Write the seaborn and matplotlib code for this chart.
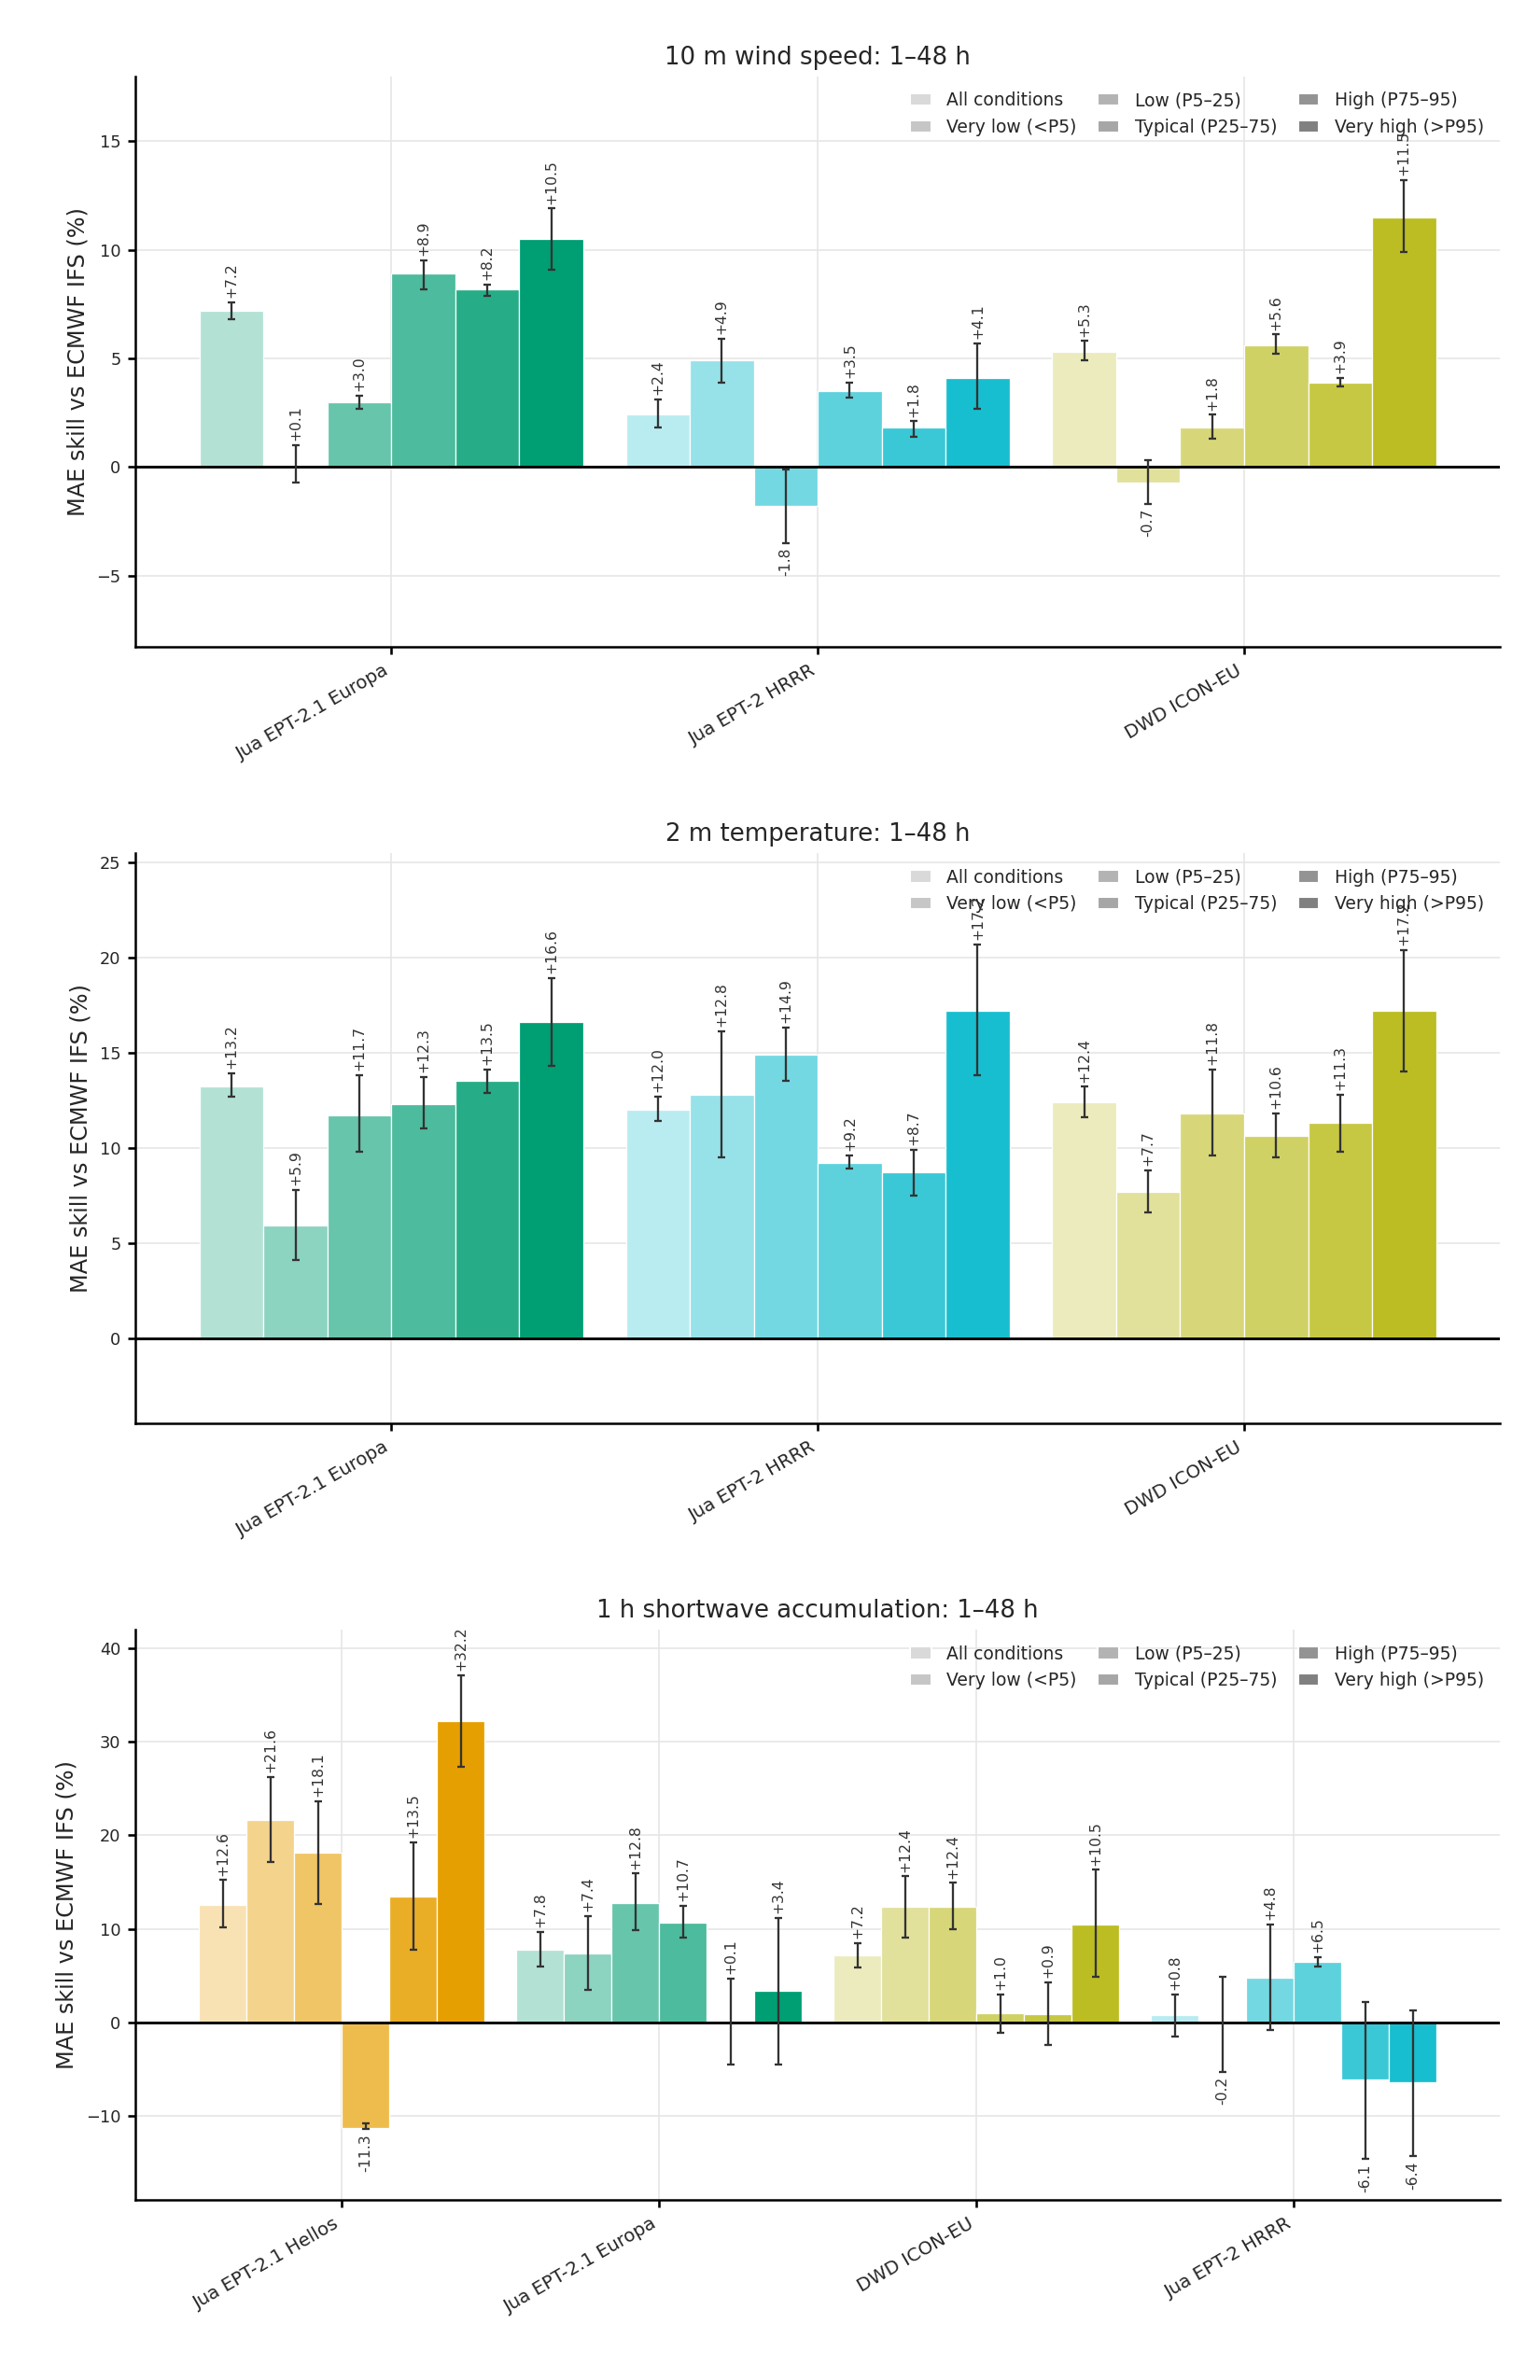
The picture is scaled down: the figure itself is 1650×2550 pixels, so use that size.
import numpy as np
import pandas as pd
import matplotlib
matplotlib.use("Agg")
import matplotlib.pyplot as plt
import matplotlib.colors as mcolors
from matplotlib.patches import Patch
import seaborn as sns

sns.set_theme(style="whitegrid")
plt.rcParams['font.family'] = ['DejaVu Sans']

conditions = ["All conditions", "Very low (<P5)", "Low (P5–25)", "Typical (P25–75)", "High (P75–95)", "Very high (>P95)"]
alphas = [0.3, 0.45, 0.6, 0.7, 0.85, 1.0]

colors = {"Jua EPT-2.1 Hellos": "#E69F00", "Jua EPT-2.1 Europa": "#009E73",
          "Jua EPT-2 HRRR": "#17BECF", "DWD ICON-EU": "#BCBD22"}

# Panel 1: 10 m wind speed
wind_models = ["Jua EPT-2.1 Europa", "Jua EPT-2 HRRR", "DWD ICON-EU"]
wind_vals = [[7.2, 0.1, 3.0, 8.9, 8.2, 10.5],
             [2.4, 4.9, -1.8, 3.5, 1.8, 4.1],
             [5.3, -0.7, 1.8, 5.6, 3.9, 11.5]]
wind_lo = [[6.8, -0.7, 2.7, 8.2, 7.9, 9.1],
           [1.8, 3.9, -3.5, 3.2, 1.4, 2.7],
           [4.9, -1.7, 1.3, 5.2, 3.7, 9.9]]
wind_hi = [[7.6, 1.0, 3.3, 9.5, 8.4, 11.9],
           [3.1, 5.9, -0.1, 3.9, 2.1, 5.7],
           [5.8, 0.3, 2.4, 6.1, 4.1, 13.2]]

# Panel 2: 2 m temperature
temp_models = ["Jua EPT-2.1 Europa", "Jua EPT-2 HRRR", "DWD ICON-EU"]
temp_vals = [[13.2, 5.9, 11.7, 12.3, 13.5, 16.6],
             [12.0, 12.8, 14.9, 9.2, 8.7, 17.2],
             [12.4, 7.7, 11.8, 10.6, 11.3, 17.2]]
temp_lo = [[12.7, 4.1, 9.8, 11.0, 12.9, 14.3],
           [11.4, 9.5, 13.5, 8.9, 7.5, 13.8],
           [11.6, 6.6, 9.6, 9.5, 9.8, 14.0]]
temp_hi = [[13.9, 7.8, 13.8, 13.7, 14.1, 18.9],
           [12.7, 16.1, 16.3, 9.6, 9.9, 20.7],
           [13.2, 8.8, 14.1, 11.8, 12.8, 20.4]]

# Panel 3: 1 h shortwave accumulation
sw_models = ["Jua EPT-2.1 Hellos", "Jua EPT-2.1 Europa", "DWD ICON-EU", "Jua EPT-2 HRRR"]
sw_vals = [[12.6, 21.6, 18.1, -11.3, 13.5, 32.2],
           [7.8, 7.4, 12.8, 10.7, 0.1, 3.4],
           [7.2, 12.4, 12.4, 1.0, 0.9, 10.5],
           [0.8, -0.2, 4.8, 6.5, -6.1, -6.4]]
sw_lo = [[10.2, 17.1, 12.7, -11.4, 7.8, 27.3],
         [6.0, 3.5, 9.9, 9.1, -4.5, -4.5],
         [5.9, 9.1, 10.0, -1.1, -2.4, 4.9],
         [-1.5, -5.3, -0.8, 6.0, -14.6, -14.3]]
sw_hi = [[15.2, 26.2, 23.6, -10.8, 19.2, 37.1],
         [9.7, 11.4, 15.9, 12.5, 4.7, 11.2],
         [8.5, 15.6, 14.9, 3.0, 4.3, 16.3],
         [3.0, 4.9, 10.5, 7.0, 2.2, 1.3]]

panels = [
    ("10 m wind speed: 1–48 h", wind_models, wind_vals, wind_lo, wind_hi, (-8.3, 18), [-5, 0, 5, 10, 15]),
    ("2 m temperature: 1–48 h", temp_models, temp_vals, temp_lo, temp_hi, (-4.5, 25.5), [0, 5, 10, 15, 20, 25]),
    ("1 h shortwave accumulation: 1–48 h", sw_models, sw_vals, sw_lo, sw_hi, (-19, 42), [-10, 0, 10, 20, 30, 40]),
]

def blend(c, a):
    r = np.array(mcolors.to_rgb(c))
    return tuple(1 - a * (1 - r))

fig, axes = plt.subplots(3, 1, figsize=(11, 17), dpi=150)
fig.subplots_adjust(left=0.088, right=0.974, top=0.968, bottom=0.0755, hspace=0.36)

for ax, (title, models, vals, lo, hi, ylim, yt) in zip(axes, panels):
    rows = []
    for m, v in zip(models, vals):
        for c, x in zip(conditions, v):
            rows.append({"model": m, "cond": c, "val": x})
    df = pd.DataFrame(rows)
    sns.barplot(data=df, x="model", y="val", hue="cond", order=models, hue_order=conditions,
                width=0.9, errorbar=None, ax=ax, legend=False, edgecolor="white", linewidth=0.6)
    bars = [p for p in ax.patches][:len(models) * len(conditions)]
    span = ylim[1] - ylim[0]
    for j, cond in enumerate(conditions):
        for i, m in enumerate(models):
            p = bars[j * len(models) + i]
            p.set_facecolor(blend(colors[m], alphas[j]))
            xc = p.get_x() + p.get_width() / 2
            v, l, h = vals[i][j], lo[i][j], hi[i][j]
            ax.errorbar(xc, v, yerr=[[v - l], [h - v]], fmt="none", ecolor="#333333",
                        elinewidth=1.1, capsize=2, capthick=1.1, zorder=5)
            if v >= 0:
                ax.text(xc, h + span * 0.008, f"{v:+.1f}", rotation=90, ha="center", va="bottom",
                        fontsize=7.5, color="#333333")
            else:
                ax.text(xc, l - span * 0.008, f"{v:.1f}", rotation=90, ha="center", va="top",
                        fontsize=7.5, color="#333333")
    ax.axhline(0, color="black", lw=1.4, zorder=4)
    ax.set_ylim(*ylim)
    ax.set_yticks(yt)
    pad = 0.65 if len(models) == 4 else 0.6
    ax.set_xlim(-pad, len(models) - 1 + pad)
    ax.set_title(title, fontsize=12.5)
    ax.set_xlabel("")
    ax.set_ylabel("MAE skill vs ECMWF IFS (%)", fontsize=11.5)
    ax.tick_params(axis="y", labelsize=8.5, length=4, left=True, color="black")
    ax.tick_params(axis="x", labelsize=9.5, length=4, bottom=True, color="black")
    plt.setp(ax.get_xticklabels(), rotation=30, ha="right")
    ax.grid(True, color="#e6e6e6", lw=0.8)
    ax.set_axisbelow(True)
    for s in ["top", "right"]:
        ax.spines[s].set_visible(False)
    for s in ["left", "bottom"]:
        ax.spines[s].set_color("black")
        ax.spines[s].set_linewidth(1.2)
    ax.set_facecolor("white")
    handles = [Patch(facecolor=blend("#808080", a), label=c) for c, a in zip(conditions, alphas)]
    ax.legend(handles=handles, ncol=3, loc="upper right", frameon=False, fontsize=9,
              handlelength=1.2, columnspacing=1.2, handletextpad=0.9)

fig.savefig("out.png", dpi=150, facecolor="white")
